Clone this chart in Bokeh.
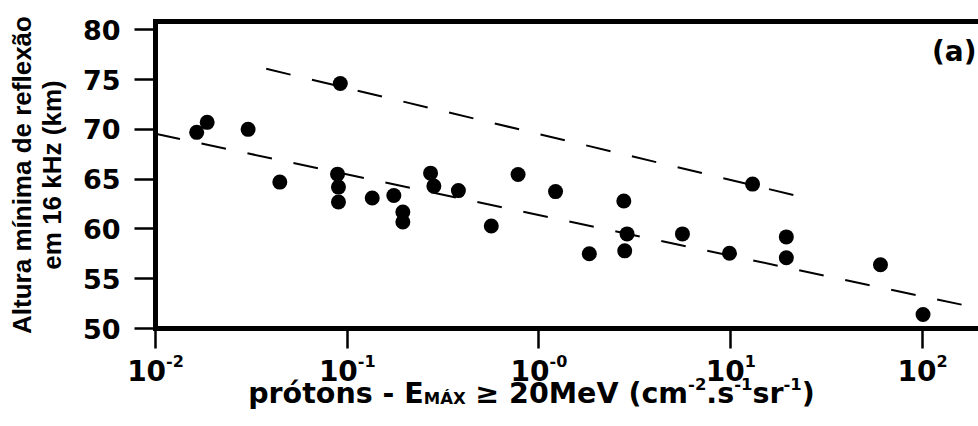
import math
from bokeh.plotting import figure
from bokeh.models import Range1d, FixedTicker, LinearAxis, Label
from bokeh.layouts import column
from bokeh.embed import file_html
from bokeh.resources import INLINE

# ---------------- data ----------------
flux = [0.0164, 0.0186, 0.0304, 0.0445, 0.092, 0.089, 0.090, 0.090,
        0.135, 0.175, 0.195, 0.195, 0.272, 0.283, 0.38, 0.564, 0.778,
        1.22, 1.83, 2.77, 2.88, 2.8, 5.6, 9.85, 13.0, 19.5, 19.5, 60.4, 100.7]
altura = [69.7, 70.7, 70.0, 64.7, 74.6, 65.5, 64.2, 62.7,
          63.1, 63.35, 61.7, 60.7, 65.6, 64.3, 63.85, 60.3, 65.46,
          63.75, 57.5, 62.8, 59.5, 57.8, 59.5, 57.55, 64.5, 59.2, 57.1, 56.4, 51.4]

fit_low_x = [0.01, 200.0]
fit_low_y = [69.55, 52.0]
fit_high_x = [0.0378, 26.1]
fit_high_y = [76.08, 63.0]

x_ticks = [0.01, 0.1, 1.0, 10.0, 100.0]
x_tick_base = ["10", "10", "10", "10", "10"]
x_tick_exp = ["-2", "-1", "-0", "1", "2"]
y_ticks = [50, 55, 60, 65, 70, 75, 80]

y_title = ["Altura mínima de reflexão", "em 16 kHz (km)"]
x_title_text = ["prótons - E", "MÁX", "\u00a0\u2265 20MeV (cm", "-2", ".s", "-1", "sr", "-1", ")"]
x_title_role = ["main", "sub", "main", "sup", "main", "sup", "main", "sup", "main"]
panel_tag = "(a)"

# ---------------- layout / style ----------------
WIDTH, HEIGHT = 978, 426
X_MIN, X_MAX = 0.01, 196.0
Y_MIN, Y_MAX = 50.0, 80.83
FONT = "DejaVu Sans"
FONT_Y = "Liberation Sans"
FRAME_LEFT, FRAME_TOP, FRAME_BOTTOM = 155, 21, 328
TICK_X = 20
TOP_H = FRAME_BOTTOM + TICK_X + 2       # main figure height
BOT_H = HEIGHT - TOP_H                  # strip with x tick labels and x title
LIFT = 10                               # label baseline correction (px)

# DejaVu Sans Bold advance widths (per 1000 em)
W = {"p": 716, "r": 493, "ó": 687, "t": 478, "o": 687, "n": 712, "s": 595, " ": 348,
     "\u00a0": 348, "-": 415, "E": 683, "M": 995, "Á": 774, "X": 752, "\u2265": 838,
     "2": 696, "0": 696, "e": 678, "V": 774, "(": 457, "c": 593, "m": 1042, ".": 380,
     "1": 696, ")": 457, "a": 675}


def tw(s, size):
    return sum(W.get(ch, 696) for ch in s) * size / 1000.0


p = figure(width=WIDTH, height=TOP_H, x_axis_type="log",
           x_range=Range1d(X_MIN, X_MAX), y_range=Range1d(Y_MIN, Y_MAX),
           output_backend="svg", toolbar_location=None, title=None,
           min_border_left=FRAME_LEFT, min_border_right=0,
           min_border_top=FRAME_TOP, min_border_bottom=TOP_H - FRAME_BOTTOM)
p.frame_align = False
p.margin = (0, 0, 0, 0)
p.outline_line_color = None
p.xgrid.visible = False
p.ygrid.visible = False
p.background_fill_color = "white"
p.border_fill_color = "white"

xa = p.xaxis[0]
xa.ticker = FixedTicker(ticks=x_ticks)
xa.axis_line_width = 5
xa.axis_line_cap = "square"
xa.major_tick_out = TICK_X
xa.major_tick_in = 0
xa.major_tick_line_width = 2.5
xa.minor_tick_out = 0
xa.minor_tick_in = 0
xa.major_label_text_font_size = "0px"
xa.major_label_standoff = 0
xa.major_label_text_color = None

ya = p.yaxis[0]
ya.ticker = FixedTicker(ticks=y_ticks)
ya.axis_line_width = 5
ya.axis_line_cap = "square"
ya.major_tick_out = 21
ya.major_tick_in = 0
ya.major_tick_line_width = 2.5
ya.minor_tick_out = 0
ya.minor_tick_in = 0
ya.major_label_standoff = 14
ya.major_label_text_font = FONT
ya.major_label_text_font_style = "bold"
ya.major_label_text_font_size = "27px"
ya.major_label_text_color = "black"
# y axis title: two lines
ya.axis_label = "\n".join(y_title)
ya.axis_label_text_font = FONT_Y
ya.axis_label_text_font_style = "bold"
ya.axis_label_text_font_size = "26px"
ya.axis_label_text_color = "black"
ya.axis_label_text_line_height = 1.0
ya.axis_label_standoff = 13

top = LinearAxis(ticker=FixedTicker(ticks=[]), axis_line_width=5, axis_line_cap="square",
                 major_tick_out=0, major_tick_in=0, minor_tick_out=0, minor_tick_in=0,
                 major_label_text_font_size="0px", major_label_text_color=None)
p.add_layout(top, "above")

# fit lines
p.line(fit_low_x, fit_low_y, line_color="black", line_width=2, line_dash="25 22")
p.line(fit_high_x, fit_high_y, line_color="black", line_width=2, line_dash="25 22")

# points
p.scatter(flux, altura, marker="circle", size=15, fill_color="black", line_color=None)

# panel tag
p.add_layout(Label(x=X_MAX, y=Y_MAX, x_offset=-2, y_offset=-40 + LIFT, text=panel_tag,
                   text_align="right", text_baseline="alphabetic",
                   text_font=FONT, text_font_style="bold",
                   text_font_size="28px", text_color="black"))

# ---------- lower strip: same log scale, frame spans full width ----------
decade_px = (WIDTH - FRAME_LEFT) / math.log10(X_MAX / X_MIN)
strip_xmin = 10 ** (math.log10(X_MIN) - FRAME_LEFT / decade_px)
q = figure(width=WIDTH, height=BOT_H, x_axis_type="log",
           x_range=Range1d(strip_xmin, X_MAX), y_range=Range1d(BOT_H, 0),
           output_backend="svg", toolbar_location=None, title=None,
           x_axis_location=None, y_axis_location=None,
           min_border_left=0, min_border_right=0, min_border_top=0, min_border_bottom=0)
q.frame_align = False
q.margin = (0, 0, 0, 0)
q.outline_line_color = None
q.xgrid.visible = False
q.ygrid.visible = False
q.background_fill_color = "white"
q.border_fill_color = "white"

# x tick labels: "10" with superscript exponent (rows measured from strip top)
F_TICK, F_SUP = 28, 16
row_tick = 380 - TOP_H - LIFT
row_sup = 370 - TOP_H - LIFT
for t, b, e in zip(x_ticks, x_tick_base, x_tick_exp):
    wb = tw(b, F_TICK)
    we = tw(e, F_SUP)
    d = (wb + we) / 2 - we
    q.add_layout(Label(x=t, y=row_tick, x_offset=d, text=b,
                       text_align="right", text_baseline="alphabetic",
                       text_font=FONT, text_font_style="bold",
                       text_font_size=f"{F_TICK}px", text_color="black"))
    q.add_layout(Label(x=t, y=row_sup, x_offset=d, text=e,
                       text_align="left", text_baseline="alphabetic",
                       text_font=FONT, text_font_style="bold",
                       text_font_size=f"{F_SUP}px", text_color="black"))

# x axis title composed of pieces
F_MAIN, F_SMALL = 28.5, 16.5
sizes = [F_MAIN if r == "main" else F_SMALL for r in x_title_role]
total = sum(tw(s, f) for s, f in zip(x_title_text, sizes))
cx = 531 - FRAME_LEFT
xpos = cx - total / 2
rows = {"main": 403 - TOP_H - LIFT, "sub": 408 - TOP_H - LIFT, "sup": 393 - TOP_H - LIFT}
for s, r, f in zip(x_title_text, x_title_role, sizes):
    q.add_layout(Label(x=X_MIN, y=rows[r], x_offset=xpos, text=s,
                       text_align="left", text_baseline="alphabetic",
                       text_font=FONT, text_font_style="bold",
                       text_font_size=f"{f}px", text_color="black"))
    xpos += tw(s, f)

layout = column(p, q, spacing=0)
layout.margin = (0, 0, 0, 0)
open("out.html", "w").write(file_html(layout, INLINE))
